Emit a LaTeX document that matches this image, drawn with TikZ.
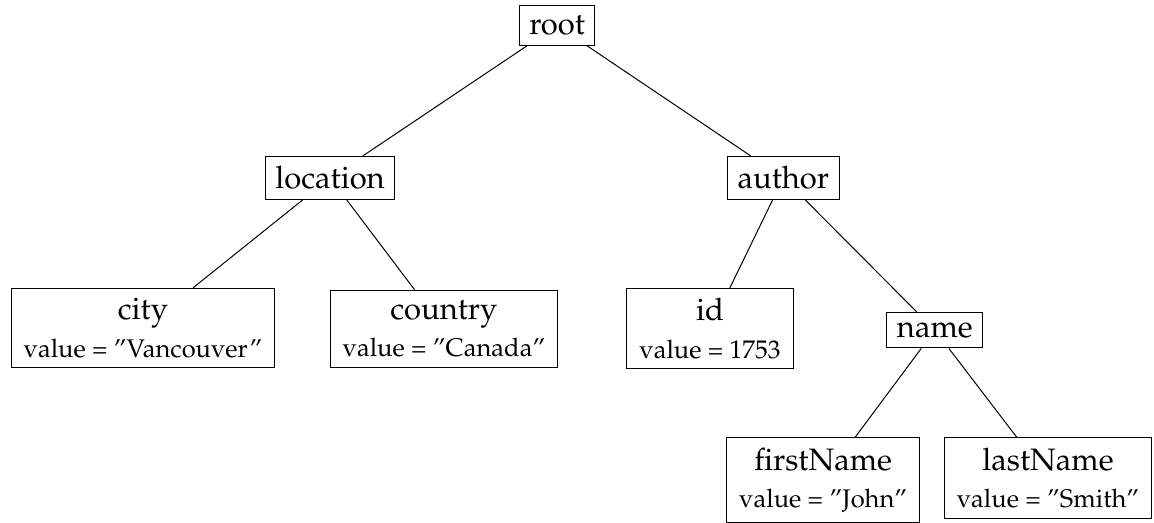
\documentclass[tikz,border=0pt]{standalone}
\usepackage[T1]{fontenc}
\usepackage{mathpazo}
\newcommand{\val}[1]{{\fontsize{10.2}{13}\selectfont value = #1}}
\begin{document}
\begin{tikzpicture}[
    key/.style={draw, font=\fontsize{12.4}{15}\selectfont, inner sep=4pt},
    leaf/.style={draw, font=\fontsize{12.4}{15}\selectfont, align=center, inner xsep=5pt, inner ysep=4pt}]
\useasboundingbox (0,0) rectangle (16.22,7.35);
% inner nodes
\node [key] (root) at (7.83,6.99) {root};
\node [key] (location) at (4.64,4.85) {location};
\node [key] (author) at (11.01,4.85) {author};
\node [key] (name) at (13.14,2.71) {name};
% leaves
\node [leaf] (city) at (2.01,2.74) {city\\ \val{''Vancouver''}};
\node [leaf] (country) at (6.24,2.73) {country\\ \val{''Canada''}};
\node [leaf] (id) at (9.98,2.73) {id\\ \val{1753}};
\node [leaf] (firstName) at (11.57,0.60) {firstName\\ \val{''John''}};
\node [leaf] (lastName) at (14.73,0.63) {lastName\\ \val{''Smith''}};
% edges
\draw (root) -- (location);
\draw (root) -- (author);
\draw (location) -- (city);
\draw (location) -- (country);
\draw (author) -- (id);
\draw (author) -- (name);
\draw (name) -- (firstName);
\draw (name) -- (lastName);
\end{tikzpicture}
\end{document}
